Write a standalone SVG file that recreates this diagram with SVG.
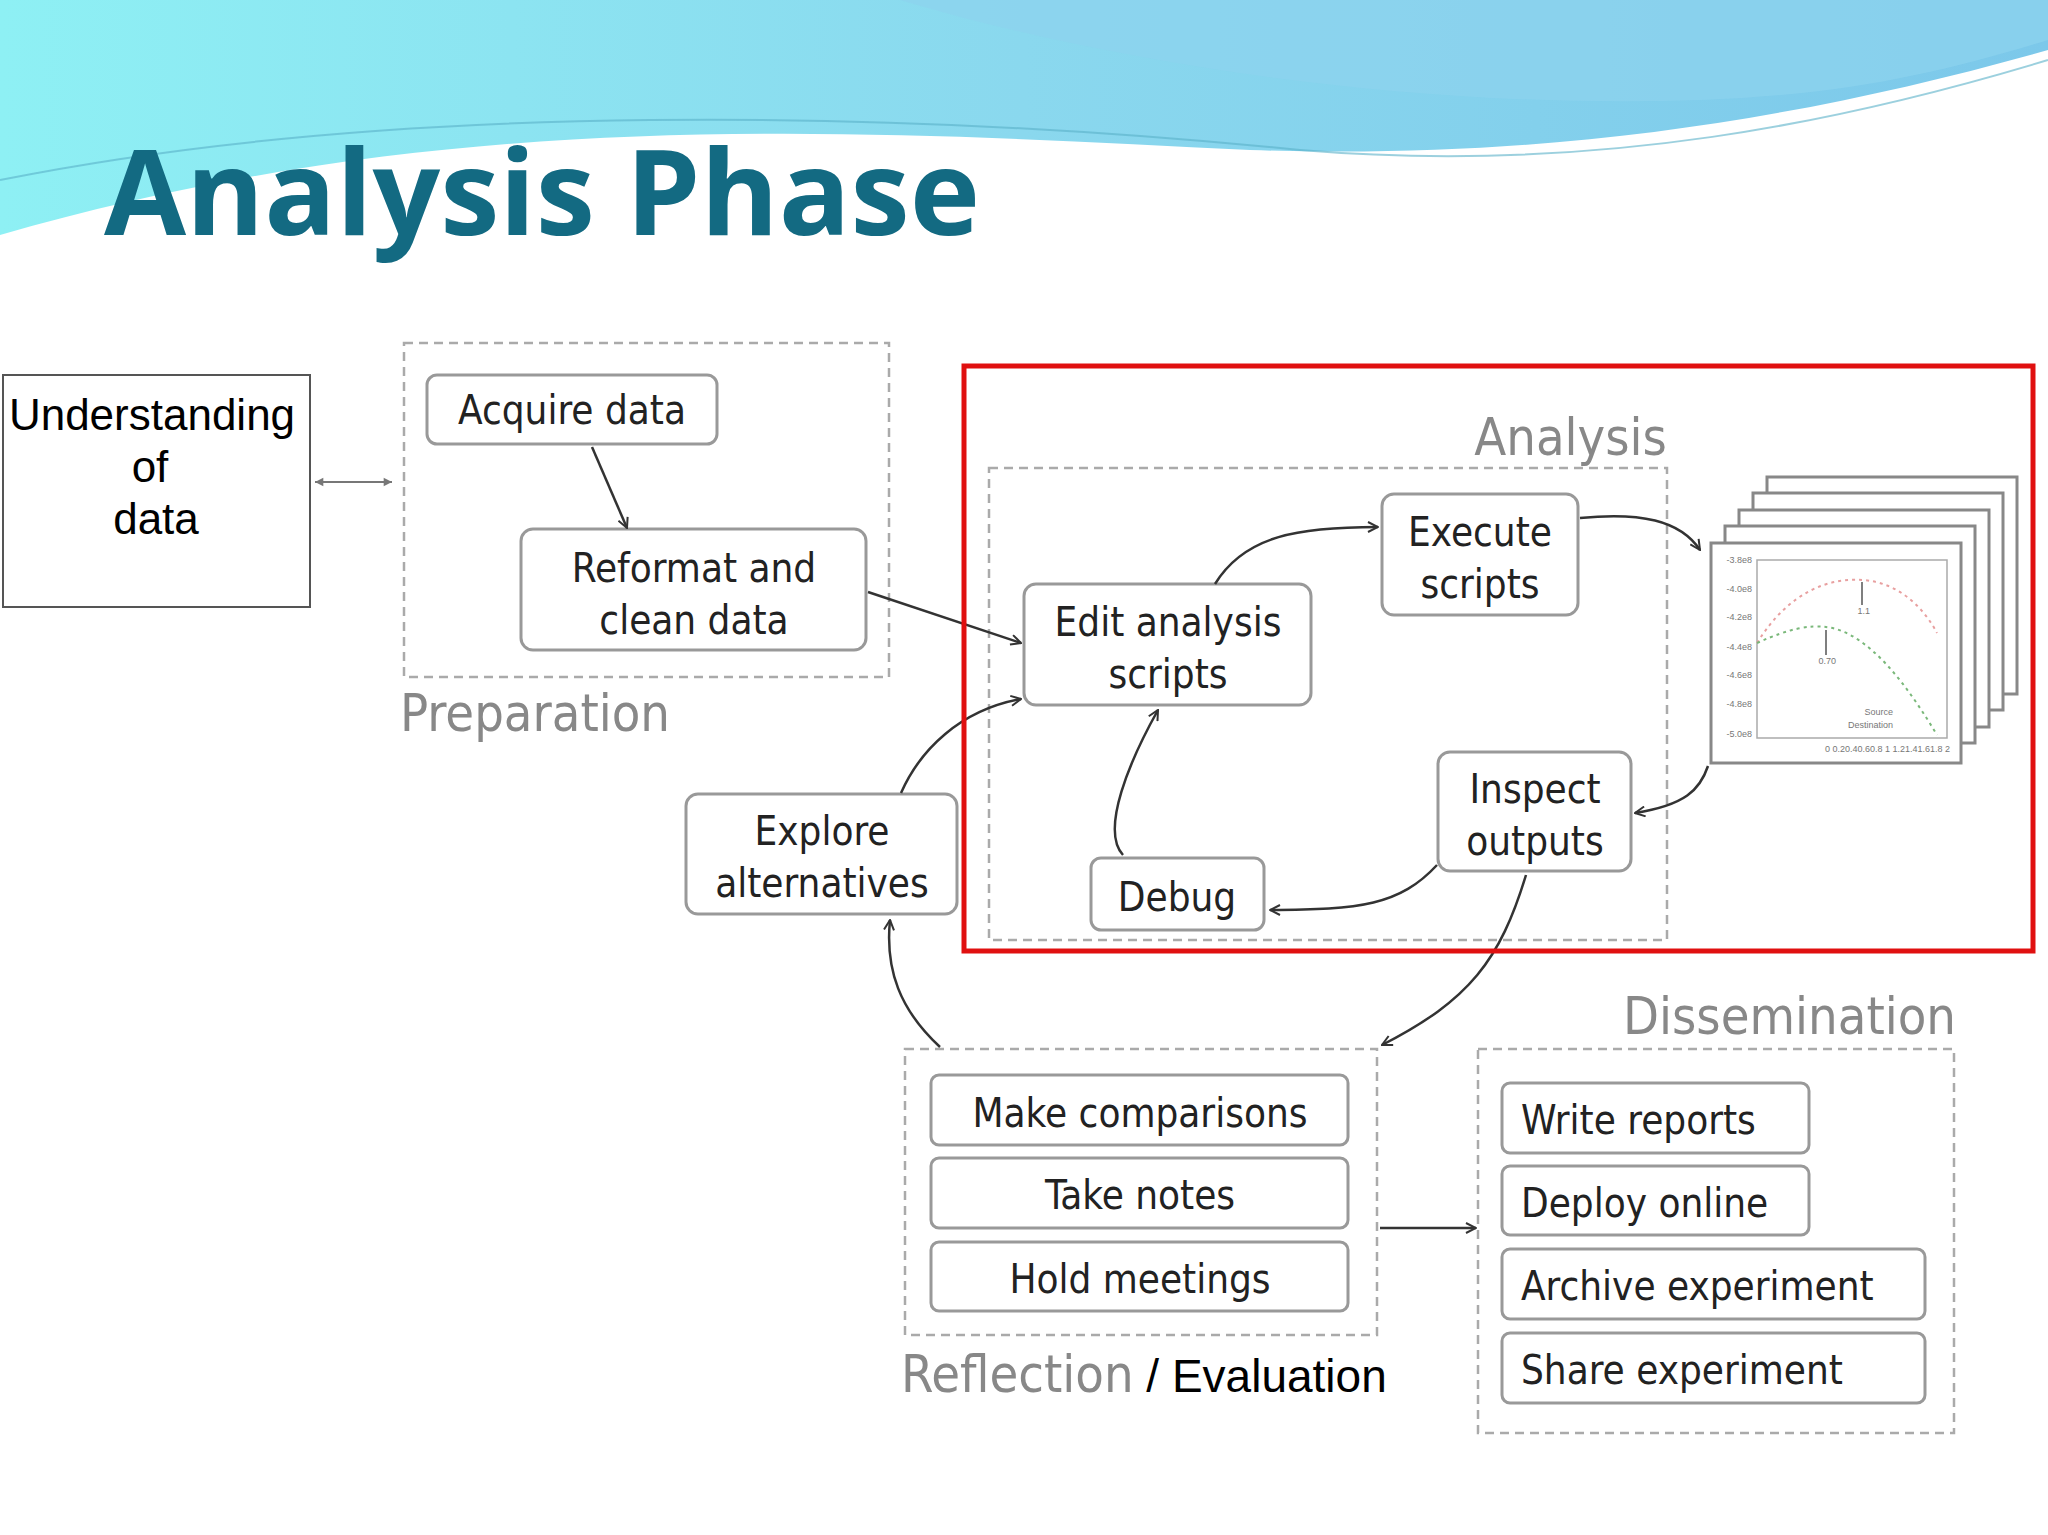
<svg xmlns="http://www.w3.org/2000/svg" width="2048" height="1535" viewBox="0 0 2048 1535">
<style>
.b{fill:#fff;stroke:#999;stroke-width:3}
.d{fill:none;stroke:#aaa;stroke-width:2.5;stroke-dasharray:9 6}
.t{font-family:"DejaVu Sans Condensed","DejaVu Sans",sans-serif;font-stretch:condensed;font-size:40px;fill:#222}
.l{font-family:"DejaVu Sans Condensed","DejaVu Sans",sans-serif;font-stretch:condensed;font-size:52px;fill:#888}
.c{fill:none;stroke:#333;stroke-width:2.5}
</style>
<defs>
<linearGradient id="g" x1="0" x2="1"><stop offset="0" stop-color="#8ef0f4"/><stop offset="0.5" stop-color="#8ad8ee"/><stop offset="1" stop-color="#7cc8ea"/></linearGradient>
<marker id="a" viewBox="0 0 12 12" refX="11" refY="6" markerWidth="12" markerHeight="12" markerUnits="userSpaceOnUse" orient="auto-start-reverse"><path d="M1,1 L11,6 L1,11" fill="none" stroke="#333" stroke-width="2"/></marker>
<marker id="a2" viewBox="0 0 12 12" refX="11" refY="6" markerWidth="10" markerHeight="10" markerUnits="userSpaceOnUse" orient="auto-start-reverse"><path d="M1,1 L11,6 L1,11 Z" fill="#777"/></marker>
</defs>
<rect width="2048" height="1535" fill="#fff"/>
<g id="header">
<path d="M0,0 H2048 V50 C1800,120 1550,160 1250,150 C850,130 450,105 0,235 Z" fill="url(#g)"/>
<path d="M900,0 C1100,60 1400,110 1700,100 C1850,95 1950,70 2048,40 V0 Z" fill="#8dd3ee" opacity="0.7"/>
<path d="M0,180 C400,100 900,110 1300,150 C1600,175 1850,120 2048,60" fill="none" stroke="#5ab0c8" stroke-width="2" opacity="0.6"/>
</g>
<text x="104" y="235" font-family="'Open Sans','Noto Sans',sans-serif" font-weight="bold" font-size="119" fill="#136a82">Analysis Phase</text>
<g id="understanding">
<rect x="3" y="375" width="307" height="232" fill="#fff" stroke="#555" stroke-width="2"/>
<text font-family="'Liberation Sans',Arial,sans-serif" font-size="44" text-anchor="middle" fill="#000"><tspan x="152" y="430">Understanding</tspan><tspan x="150" y="482">of</tspan><tspan x="156" y="534">data</tspan></text>
</g>
<g id="preparation">
<rect class="d" x="404" y="343" width="485" height="334"/>
<text class="l" x="400" y="731">Preparation</text>
</g>
<g id="acquire"><rect class="b" x="427" y="375" width="290" height="69" rx="10"/><text class="t" x="572" y="424" text-anchor="middle">Acquire data</text></g>
<g id="reformat"><rect class="b" x="521" y="529" width="345" height="121" rx="12"/><text class="t" text-anchor="middle"><tspan x="694" y="582">Reformat and</tspan><tspan x="694" y="634">clean data</tspan></text></g>
<g id="analysis">
<rect class="d" x="989" y="468" width="678" height="472"/>
<text class="l" x="1667" y="455" text-anchor="end">Analysis</text>
</g>
<g id="edit"><rect class="b" x="1024" y="584" width="287" height="121" rx="12"/><text class="t" text-anchor="middle"><tspan x="1168" y="636">Edit analysis</tspan><tspan x="1168" y="688">scripts</tspan></text></g>
<g id="execute"><rect class="b" x="1382" y="494" width="196" height="121" rx="12"/><text class="t" text-anchor="middle"><tspan x="1480" y="546">Execute</tspan><tspan x="1480" y="598">scripts</tspan></text></g>
<g id="inspect"><rect class="b" x="1438" y="752" width="193" height="119" rx="12"/><text class="t" text-anchor="middle"><tspan x="1535" y="803">Inspect</tspan><tspan x="1535" y="855">outputs</tspan></text></g>
<g id="debug"><rect class="b" x="1091" y="858" width="173" height="72" rx="10"/><text class="t" x="1177" y="911" text-anchor="middle">Debug</text></g>
<g id="explore"><rect class="b" x="686" y="794" width="271" height="120" rx="12"/><text class="t" text-anchor="middle"><tspan x="822" y="845">Explore</tspan><tspan x="822" y="897">alternatives</tspan></text></g>
<g id="charts">
<rect x="1767" y="477" width="250" height="217" fill="#fff" stroke="#888" stroke-width="3"/>
<rect x="1753" y="493" width="250" height="217" fill="#fff" stroke="#888" stroke-width="3"/>
<rect x="1739" y="510" width="250" height="217" fill="#fff" stroke="#888" stroke-width="3"/>
<rect x="1725" y="526" width="250" height="217" fill="#fff" stroke="#888" stroke-width="3"/>
<rect x="1711" y="543" width="250" height="220" fill="#fff" stroke="#888" stroke-width="3"/>
<rect x="1757" y="560" width="190" height="178" fill="none" stroke="#aaa" stroke-width="1.5"/>
<path d="M1757,643 C1790,590 1830,578 1862,580 C1900,582 1925,610 1937,633" fill="none" stroke="#e8a0a0" stroke-width="2" stroke-dasharray="3 4"/>
<path d="M1757,643 C1790,628 1810,625 1826,627 C1870,632 1910,690 1937,735" fill="none" stroke="#7ab87a" stroke-width="2" stroke-dasharray="3 4"/>
<path d="M1862,582 V605 M1826,630 V655" stroke="#555" stroke-width="1.5"/>
<g font-family="'Liberation Sans',sans-serif" font-size="9" fill="#777" text-anchor="end">
<text x="1752" y="563">-3.8e8</text><text x="1752" y="592">-4.0e8</text><text x="1752" y="620">-4.2e8</text><text x="1752" y="650">-4.4e8</text><text x="1752" y="678">-4.6e8</text><text x="1752" y="707">-4.8e8</text><text x="1752" y="737">-5.0e8</text>
<text x="1950" y="752">0 0.20.40.60.8  1  1.21.41.61.8  2</text>
<text x="1870" y="614">1.1</text><text x="1836" y="664">0.70</text>
<text x="1893" y="715">Source</text><text x="1893" y="728">Destination</text>
</g>
</g>
<g id="reflection">
<rect class="d" x="905" y="1049" width="472" height="286"/>
<text x="901" y="1392"><tspan class="l">Reflection</tspan><tspan font-family="'Liberation Sans',Arial,sans-serif" font-size="46" fill="#000"> / Evaluation</tspan></text>
</g>
<g id="make"><rect class="b" x="931" y="1075" width="417" height="70" rx="8"/><text class="t" x="1140" y="1127" text-anchor="middle">Make comparisons</text></g>
<g id="take"><rect class="b" x="931" y="1158" width="417" height="70" rx="8"/><text class="t" x="1140" y="1209" text-anchor="middle">Take notes</text></g>
<g id="hold"><rect class="b" x="931" y="1242" width="417" height="69" rx="8"/><text class="t" x="1140" y="1293" text-anchor="middle">Hold meetings</text></g>
<g id="dissemination">
<rect class="d" x="1478" y="1049" width="476" height="384"/>
<text class="l" x="1956" y="1034" text-anchor="end">Dissemination</text>
</g>
<g id="write"><rect class="b" x="1502" y="1083" width="307" height="70" rx="8"/><text class="t" x="1521" y="1134">Write reports</text></g>
<g id="deploy"><rect class="b" x="1502" y="1166" width="307" height="69" rx="8"/><text class="t" x="1521" y="1217">Deploy online</text></g>
<g id="archive"><rect class="b" x="1502" y="1249" width="423" height="70" rx="8"/><text class="t" x="1521" y="1300">Archive experiment</text></g>
<g id="share"><rect class="b" x="1502" y="1333" width="423" height="70" rx="8"/><text class="t" x="1521" y="1384">Share experiment</text></g>
<g id="connectors">
<path d="M315,482 H392" stroke="#777" stroke-width="2" fill="none" marker-start="url(#a2)" marker-end="url(#a2)"/>
<path class="c" d="M592,447 L627,528" marker-end="url(#a)"/>
<path class="c" d="M868,592 L1021,643" marker-end="url(#a)"/>
<path class="c" d="M1215,584 C1245,535 1300,527 1378,527" marker-end="url(#a)"/>
<path class="c" d="M1580,518 C1640,512 1680,520 1700,550" marker-end="url(#a)"/>
<path class="c" d="M1708,766 C1700,790 1685,805 1635,813" marker-end="url(#a)"/>
<path class="c" d="M1437,865 C1400,905 1360,910 1270,910" marker-end="url(#a)"/>
<path class="c" d="M1123,855 C1100,830 1130,760 1158,710" marker-end="url(#a)"/>
<path class="c" d="M901,793 C920,750 960,710 1021,699" marker-end="url(#a)"/>
<path class="c" d="M1526,875 C1500,960 1470,1000 1382,1045" marker-end="url(#a)"/>
<path class="c" d="M940,1047 C900,1010 885,970 890,920" marker-end="url(#a)"/>
<path class="c" d="M1380,1228 H1476" marker-end="url(#a)"/>
</g>
<rect x="964" y="366" width="1069" height="585" fill="none" stroke="#e01010" stroke-width="5"/>
</svg>
